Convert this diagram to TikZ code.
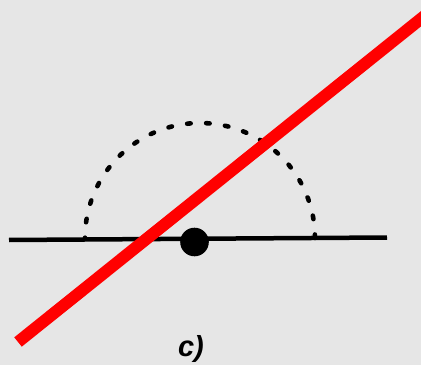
\documentclass[tikz,border=0pt]{standalone}
\usepackage{fontspec}
\setmainfont{Liberation Sans}
\definecolor{bg}{HTML}{E6E6E6}
\definecolor{redline}{HTML}{FF0000}
\begin{document}
\begin{tikzpicture}[x=1pt,y=1pt,
  arcstyle/.style={line width=4.6pt, dash pattern=on 3.5pt off 15.5pt, line cap=round},
  baseline/.style={line width=4.5pt},
  redstyle/.style={line width=12pt, color=redline},
  lbl/.style={font=\fontsize{29}{32}\selectfont\bfseries\itshape, inner sep=0pt}]
\fill[bg] (0,0) rectangle (421,365);
\useasboundingbox (0,0) rectangle (421,365);
% points (y flipped: 365 - y)
\coordinate (ctr) at (200,127);
\coordinate (l) at (9,125);
\coordinate (r) at (387,127.5);
\coordinate (rs) at (18,23);
\coordinate (re) at (445,365.5);
\draw[arcstyle] (315,127) arc[start angle=0, end angle=180, radius=115];
\draw[baseline] (l) -- (r);
\fill (194.5,123) circle[radius=14.3];
\draw[redstyle] (rs) -- (re);
\node[lbl] (lab) at (191,16) {c)};
\end{tikzpicture}
\end{document}
